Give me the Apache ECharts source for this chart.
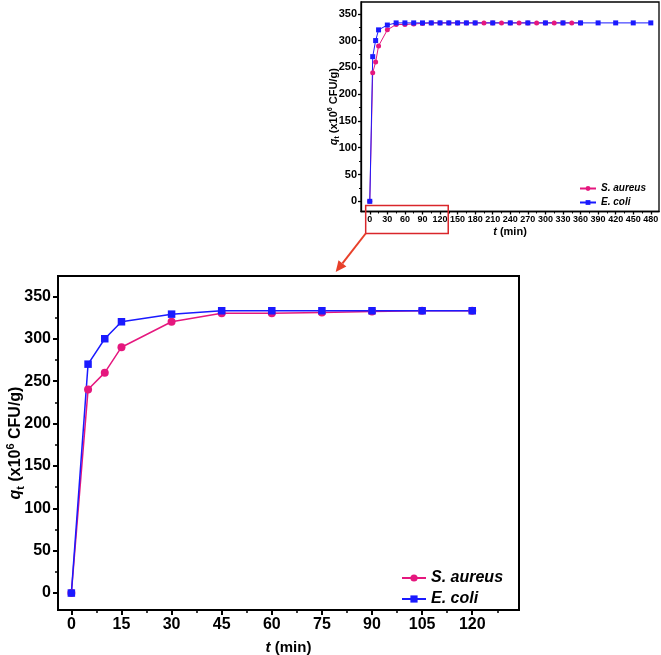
<!DOCTYPE html>
<html><head><meta charset="utf-8">
<script src="https://cdn.jsdelivr.net/npm/echarts@6/dist/echarts.min.js"></script>
<style>html,body{margin:0;padding:0;background:#fff}#c{width:661px;height:655px}</style>
</head><body><div id="c"></div>
<script>
// ---- data ----
const tSA = [0,5,10,15,30,45,60,75,90,105,120,135,150,165,180,195,210,225,240,255,270,285,300,315,330,345,360];
const qSA = [0,240,260,290,320,330,330,331,332,333,333,333,333,333,333,333,333,333,333,333,333,333,333,333,333,333,333];
const tEC = [0,5,10,15,30,45,60,75,90,105,120,135,150,165,180,210,240,270,300,330,360,390,420,450,480];
const qEC = [0,270,300,320,329,333,333,333,333,333,333,333,333,333,333,333,333,333,333,333,333,333,333,333,333];
const mainXTicks = [0,15,30,45,60,75,90,105,120];
const insetXTicks = [0,30,60,90,120,150,180,210,240,270,300,330,360,390,420,450,480];
const yTicks = [0,50,100,150,200,250,300,350];
const names = ['S. aureus','E. coli'];
const mainMaxT = 120;

const FONT = '"Liberation Sans", Arial, Helvetica, sans-serif';
const PINK = '#e5177e', BLUE = '#1a1aff';
const mids = a => a.slice(0,-1).map((v,i)=>(v+a[i+1])/2).concat([a[a.length-1]+(a[1]-a[0])/2]);
const pairs = (t,q,lim) => t.map((v,i)=>[v,q[i]]).filter(p=>lim==null||p[0]<=lim);

function xAx(grid, min, max, ticks, minor, o){
  return [{
    type:'value', gridIndex:grid, min:min, max:max, position:'bottom',
    axisLine:{show:true,onZero:false,lineStyle:{color:'#000',width:o.lw}},
    axisTick:{show:true,inside:false,length:o.tl,customValues:ticks,lineStyle:{color:'#000',width:o.lw}},
    axisLabel:{customValues:ticks,fontFamily:FONT,fontWeight:'bold',fontSize:o.fs,color:'#000',margin:o.m},
    splitLine:{show:false},
    name:'{i|t} (min)', nameLocation:'middle', nameGap:o.ng, nameMoveOverlap:false,
    nameTextStyle:{fontFamily:FONT,fontWeight:'bold',fontSize:o.nfs,color:'#000',
      rich:{i:{fontFamily:FONT,fontWeight:'bold',fontStyle:'italic',fontSize:o.nfs,color:'#000'}}}
  },{
    type:'value', gridIndex:grid, min:min, max:max, position:'bottom', offset:0,
    axisLine:{show:false,onZero:false}, axisLabel:{show:false}, splitLine:{show:false},
    axisTick:{show:true,inside:false,length:o.mtl,customValues:minor.filter(v=>v<max),lineStyle:{color:'#000',width:o.lw*0.75}}
  }];
}
function yAx(grid, min, max, o){
  const sub = Math.round(o.nfs*0.68);
  return [{
    type:'value', gridIndex:grid, min:min, max:max, position:'left',
    axisLine:{show:true,onZero:false,lineStyle:{color:'#000',width:o.lw}},
    axisTick:{show:true,inside:false,length:o.tl,customValues:yTicks,lineStyle:{color:'#000',width:o.lw}},
    axisLabel:{customValues:yTicks,fontFamily:FONT,fontWeight:'bold',fontSize:o.fs,color:'#000',margin:o.m},
    splitLine:{show:false},
    name:'{i|q}{sub|t}{n| (x10}{sup|6}{n| CFU/g)}', nameLocation:'middle', nameGap:o.ng, nameRotate:90, nameMoveOverlap:false,
    nameTextStyle:{fontFamily:FONT,fontWeight:'bold',fontSize:o.nfs,color:'#000',
      rich:{
        i:{fontFamily:FONT,fontWeight:'bold',fontStyle:'italic',fontSize:o.nfs,lineHeight:o.nfs*1.3,color:'#000'},
        n:{fontFamily:FONT,fontWeight:'bold',fontSize:o.nfs,lineHeight:o.nfs*1.3,color:'#000'},
        sub:{fontFamily:FONT,fontWeight:'bold',fontSize:sub,lineHeight:sub,verticalAlign:'bottom',color:'#000'},
        sup:{fontFamily:FONT,fontWeight:'bold',fontSize:sub,lineHeight:sub,verticalAlign:'top',color:'#000'}
      }}
  },{
    type:'value', gridIndex:grid, min:min, max:max, position:'left', offset:0,
    axisLine:{show:false,onZero:false}, axisLabel:{show:false}, splitLine:{show:false},
    axisTick:{show:true,inside:false,length:o.mtl,customValues:mids(yTicks).filter(v=>v<max),lineStyle:{color:'#000',width:o.lw*0.75}}
  }];
}

const mainO = {lw:2, tl:5, mtl:3, fs:16, m:7, ng:30, nfs:15};
const mainYO = {lw:2, tl:5, mtl:3, fs:16, m:7, ng:32, nfs:16};
const insO = {lw:1.3, tl:3, mtl:2, fs:9, m:4, ng:15, nfs:11};
const insYO = {lw:1.3, tl:3, mtl:2, fs:11, m:4, ng:20, nfs:11};

function lineSeries(name, data, color, sym, grid, size, lw){
  return {type:'line', name:name, data:data, xAxisIndex:grid*2, yAxisIndex:grid*2,
    symbol:sym, symbolSize:size, showSymbol:true, animation:false,
    lineStyle:{color:color,width:lw}, itemStyle:{color:color}};
}

const chart = echarts.init(document.getElementById('c'), null, {renderer:'canvas'});
const option = {
  backgroundColor:'#fff',
  animation:false,
  grid:[
    {left:58, top:276, width:461, height:334, show:true, borderColor:'#000', borderWidth:2, containLabel:false, outerBoundsMode:'none'},
    {left:361, top:2, width:298, height:209.5, show:true, borderColor:'#000', borderWidth:1.3, containLabel:false, outerBoundsMode:'none'}
  ],
  xAxis:[].concat(
    xAx(0,-4,134,mainXTicks,mids(mainXTicks),mainO),
    xAx(1,-15,494,insetXTicks,mids(insetXTicks),insO)
  ),
  yAxis:[].concat(yAx(0,-20,374,mainYO), yAx(1,-19,372,insYO)),
  legend:[
    {data:names, orient:'vertical', left:401, top:570, padding:0, itemWidth:24, itemHeight:9, itemGap:5,
     textStyle:{fontFamily:FONT,fontWeight:'bold',fontStyle:'italic',fontSize:16,lineHeight:16,color:'#000'}},
    {data:names, orient:'vertical', left:579, top:183, padding:0, itemWidth:16, itemHeight:6, itemGap:3,
     textStyle:{fontFamily:FONT,fontWeight:'bold',fontStyle:'italic',fontSize:10,lineHeight:11,color:'#000'}}
  ],
  series:[
    lineSeries(names[0], pairs(tSA,qSA,mainMaxT), PINK, 'circle', 0, 8, 1.5),
    lineSeries(names[1], pairs(tEC,qEC,mainMaxT), BLUE, 'rect', 0, 7.5, 1.5),
    lineSeries(names[0], pairs(tSA,qSA), PINK, 'circle', 1, 5, 1),
    lineSeries(names[1], pairs(tEC,qEC), BLUE, 'rect', 1, 5, 1)
  ]
};
chart.setOption(option);

// zoom annotation: rectangle on inset x-range shown in main plot, and arrow
const pL = chart.convertToPixel({xAxisIndex:2}, -7);
const pR = chart.convertToPixel({xAxisIndex:2}, 134);
const yAxisPix = chart.convertToPixel({yAxisIndex:2}, -19);
const rT = yAxisPix - 6, rB = yAxisPix + 22;
const mainTop = chart.convertToPixel({yAxisIndex:0}, 374);
const S = [pL, rB], T = [pL - 30, mainTop - 4];
const dx = T[0]-S[0], dy = T[1]-S[1], L = Math.hypot(dx,dy);
const ux = dx/L, uy = dy/L, hl = 11, hw = 5;
const B = [T[0]-ux*hl, T[1]-uy*hl];
const nx = -uy, ny = ux;
const RED = '#e8402a';
chart.setOption({graphic:[
  {type:'rect', shape:{x:pL, y:rT, width:pR-pL, height:rB-rT}, style:{fill:'none', stroke:'#d9262b', lineWidth:1.5}, z:100},
  {type:'line', shape:{x1:S[0], y1:S[1], x2:B[0], y2:B[1]}, style:{stroke:RED, lineWidth:2}, z:100},
  {type:'polygon', shape:{points:[T,[B[0]+nx*hw,B[1]+ny*hw],[B[0]-nx*hw,B[1]-ny*hw]]}, style:{fill:RED}, z:100}
]});
</script>
</body></html>
